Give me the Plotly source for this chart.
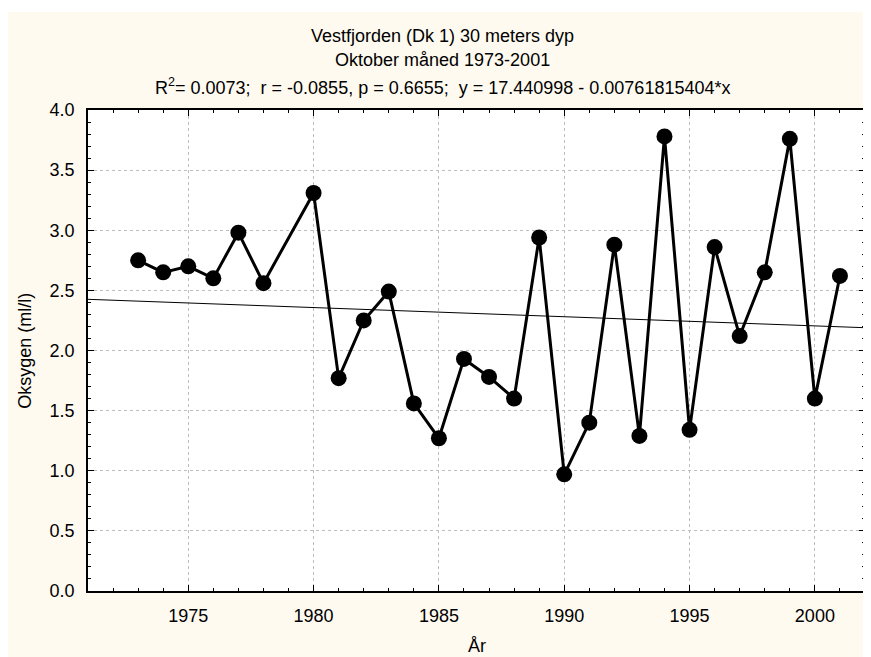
import plotly.graph_objects as go

# Oksygen i Vestfjorden, oktober 1973-2001 (1979 mangler)
years = [1973, 1974, 1975, 1976, 1977, 1978, 1980, 1981, 1982, 1983, 1984,
         1985, 1986, 1987, 1988, 1989, 1990, 1991, 1992, 1993, 1994, 1995,
         1996, 1997, 1998, 1999, 2000, 2001]
oxygen = [2.75, 2.65, 2.70, 2.60, 2.98, 2.56, 3.31, 1.77, 2.25, 2.49, 1.56,
          1.27, 1.93, 1.78, 1.60, 2.94, 0.97, 1.40, 2.88, 1.29, 3.78, 1.34,
          2.86, 2.12, 2.65, 3.76, 1.60, 2.62]

# regresjonslinje fra tittelen
intercept = 17.440998
slope = -0.00761815404
x_range = [1971, 2002]
fit_y = [intercept + slope * x for x in x_range]

FONT = "Liberation Sans, Arial, sans-serif"
CREAM = "#fffaf0"

fig = go.Figure()
fig.add_trace(go.Scatter(
    x=x_range, y=fit_y, mode="lines",
    line=dict(color="black", width=1), hoverinfo="skip",
))
fig.add_trace(go.Scatter(
    x=years, y=oxygen, mode="lines+markers",
    line=dict(color="black", width=3),
    marker=dict(color="black", size=16),
))

# siden har 8 px marg, så figuren starter ved (8, 8)
W, H = 864, 649
L, R, T, B = 80, 5, 102, 66
pw, ph = W - L - R, H - T - B

def px_x(p): return (p - L) / pw
def px_y(p): return (H - B - p) / ph

# titlene står midt på figuren, ikke midt på plottet
TX = px_x(435)

def label(text, y, x=TX, **kw):
    return dict(text=text, xref="paper", yref="paper", x=x, y=px_y(y),
                xanchor="center", yanchor="middle", showarrow=False, **kw)

fig.update_layout(
    width=W, height=H,
    margin=dict(l=L, r=R, t=T, b=B),
    paper_bgcolor=CREAM, plot_bgcolor="white",
    showlegend=False,
    font=dict(family=FONT, size=18, color="black"),
    shapes=[
        dict(type="rect", xref="paper", yref="paper", layer="below",
             x0=px_x(0), x1=px_x(W), y0=px_y(4), y1=px_y(0),
             fillcolor="white", line=dict(width=0)),
    ],
    annotations=[
        label("Vestfjorden (Dk 1) 30 meters dyp", 28),
        label("Oktober måned 1973-2001", 52),
        label("R<sup>2</sup>= 0.0073;&nbsp; r = -0.0855, p = 0.6655;&nbsp; y = 17.440998 - 0.00761815404*x", 79),
        label("År", 638, x=0.5),
        dict(text="Oksygen (ml/l)", xref="paper", yref="paper", x=px_x(16), y=0.5,
             xanchor="center", yanchor="middle", textangle=-90, showarrow=False),
    ],
    xaxis=dict(
        range=x_range, tick0=1975, dtick=5,
        ticks="inside", ticklen=6, tickcolor="black", tickwidth=1,
        minor=dict(dtick=1, ticks="inside", ticklen=3, tickcolor="black", showgrid=False),
        showline=True, linecolor="black", linewidth=2, mirror="allticks",
        showgrid=True, gridcolor="#bdbdbd", griddash="dot", gridwidth=1,
        zeroline=False, ticklabelstandoff=7,
    ),
    yaxis=dict(
        range=[0, 4], tick0=0, dtick=0.5, tickformat=".1f",
        ticks="inside", ticklen=6, tickcolor="black", tickwidth=1,
        minor=dict(dtick=0.1, ticks="inside", ticklen=3, tickcolor="black", showgrid=False),
        showline=True, linecolor="black", linewidth=1.5, mirror="allticks",
        showgrid=True, gridcolor="#bdbdbd", griddash="dot", gridwidth=1,
        zeroline=False, ticklabelstandoff=8,
    ),
)

fig.write_html("out.html")
